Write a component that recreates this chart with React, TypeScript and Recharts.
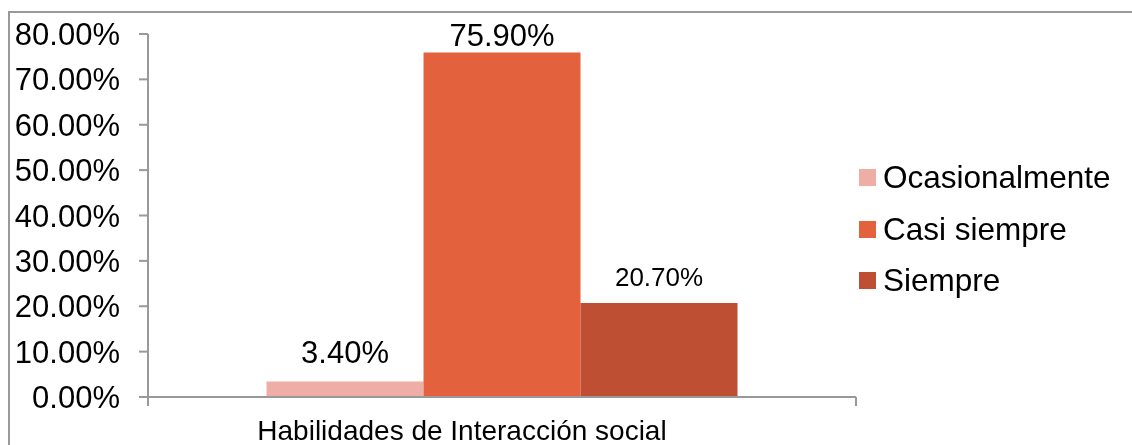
import React from 'react';
import { BarChart, Bar, XAxis, YAxis, Legend, LabelList, ReferenceLine } from 'recharts';

const categories = ['Habilidades de Interacción social'];
const seriesNames = ['Ocasionalmente', 'Casi siempre', 'Siempre'];
const ocasionalmente = [3.4];
const casiSiempre = [75.9];
const siempre = [20.7];
const yTicks = [0, 10, 20, 30, 40, 50, 60, 70, 80];

const data = categories.map((name, i) => ({
  name,
  ocasionalmente: ocasionalmente[i],
  casiSiempre: casiSiempre[i],
  siempre: siempre[i],
}));

const FONT = '"Liberation Sans", Arial, sans-serif';
const AXIS = '#999999';

const pct = (v: number) => `${Number(v).toFixed(2)}%`;

const CategoryTick = (props: any) => {
  const { x, y, payload } = props;
  return (
    <text x={x - 40} y={y} dy={43} textAnchor="middle" fill="#000" fontSize={28} fontFamily={FONT}>
      {payload.value}
    </text>
  );
};

const LegendBox = (props: any) => {
  const items = [...(props.payload || [])].sort(
    (a: any, b: any) => seriesNames.indexOf(a.value) - seriesNames.indexOf(b.value)
  );
  return (
    <div style={{ fontFamily: FONT }}>
      {items.map((p: any) => (
        <div key={p.value} style={{ display: 'flex', alignItems: 'center', height: 51.5 }}>
          <span style={{ width: 17, height: 17, background: p.color, display: 'inline-block', marginRight: 7 }} />
          <span style={{ fontSize: 31.5, color: '#000', whiteSpace: 'nowrap' }}>{p.value}</span>
        </div>
      ))}
    </div>
  );
};

export default function App() {
  return (
    <div>
      <div
        style={{
          position: 'fixed',
          left: 8,
          top: 11,
          width: 1124,
          height: 434,
          borderTop: `2px solid ${AXIS}`,
          borderLeft: `2px solid ${AXIS}`,
          boxSizing: 'border-box',
        }}
      />
      <div style={{ position: 'fixed', left: 0, top: 0, width: 1132, height: 445 }}>
        <BarChart
          width={1132}
          height={445}
          data={data}
          margin={{ top: 34, right: 276, left: 0, bottom: 0 }}
          barCategoryGap="16.74%"
          barGap={0}
        >
          <XAxis
            dataKey="name"
            height={48}
            axisLine={{ stroke: AXIS, strokeWidth: 2 }}
            tickLine={false}
            tickSize={0}
            tickMargin={0}
            tick={<CategoryTick />}
          />
          <YAxis
            width={148}
            domain={[0, 80]}
            ticks={yTicks}
            interval={0}
            tickFormatter={pct}
            tickSize={9}
            tickMargin={19}
            axisLine={{ stroke: AXIS, strokeWidth: 2 }}
            tickLine={{ stroke: AXIS, strokeWidth: 2 }}
            tick={{ fill: '#000', fontSize: 31, fontFamily: FONT }}
          />
          <ReferenceLine
            segment={[{ x: categories[0], y: 0 }, { x: categories[0], y: -2 }]}
            position="start"
            ifOverflow="visible"
            stroke={AXIS}
            strokeWidth={2}
          />
          <ReferenceLine
            segment={[{ x: categories[0], y: 0 }, { x: categories[0], y: -2 }]}
            position="end"
            ifOverflow="visible"
            stroke={AXIS}
            strokeWidth={2}
          />
          <Legend
            layout="horizontal"
            verticalAlign="middle"
            align="center"
            content={<LegendBox />}
            wrapperStyle={{ position: 'absolute', left: 859, top: 152, width: 270 }}
          />
          <Bar dataKey="ocasionalmente" name={seriesNames[0]} fill="#EEADA5" isAnimationActive={false}>
            <LabelList dataKey="ocasionalmente" position="top" offset={19} formatter={pct} fill="#000" fontSize={31} fontFamily={FONT} />
          </Bar>
          <Bar dataKey="casiSiempre" name={seriesNames[1]} fill="#E4613E" isAnimationActive={false}>
            <LabelList dataKey="casiSiempre" position="top" offset={7} formatter={pct} fill="#000" fontSize={31} fontFamily={FONT} />
          </Bar>
          <Bar dataKey="siempre" name={seriesNames[2]} fill="#BF4F32" isAnimationActive={false}>
            <LabelList dataKey="siempre" position="top" offset={17} formatter={pct} fill="#000" fontSize={26} fontFamily={FONT} />
          </Bar>
        </BarChart>
      </div>
    </div>
  );
}
